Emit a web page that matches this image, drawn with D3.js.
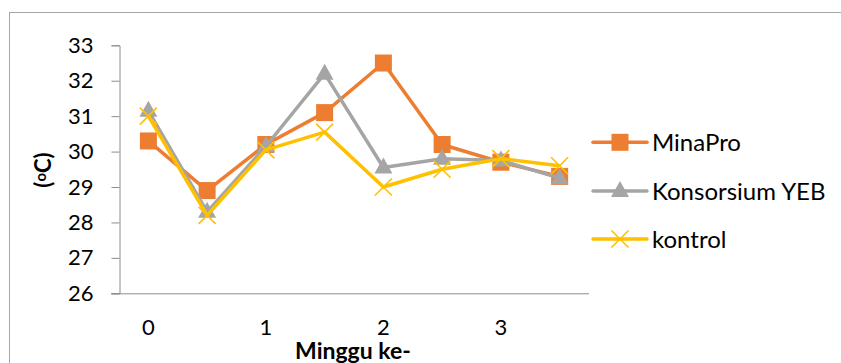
<!DOCTYPE html>
<html>
<head>
<meta charset="utf-8">
<script src="https://cdn.jsdelivr.net/npm/d3@7"></script>
<style>
  html, body { margin: 0; padding: 0; background: #fff; }
  svg { display: block; font-family: Lato, "Open Sans", sans-serif; }
</style>
</head>
<body>
<svg id="chart" width="841" height="363"></svg>
<script>
// Weekly temperature readings (°C)
const categories = ["0", "", "1", "", "2", "", "3", ""];
const minaPro    = [30.3, 28.9, 30.2, 31.1, 32.5, 30.2, 29.7, 29.3];
const konsorsium = [31.15, 28.3, 30.15, 32.2, 29.55, 29.8, 29.75, 29.25];
const kontrol    = [31.0, 28.2, 30.05, 30.55, 29.0, 29.5, 29.8, 29.6];
const seriesNames = ["MinaPro", "Konsorsium YEB", "kontrol"];
const yTicks = [26, 27, 28, 29, 30, 31, 32, 33];

const colors = ["#ED7D31", "#A5A5A5", "#FFC000"];
const seriesData = [minaPro, konsorsium, kontrol];
const markers = ["square", "triangle", "cross"];

const svg = d3.select("#chart");

// outer chart frame
svg.append("rect")
  .attr("x", 9.5).attr("y", 12.5)
  .attr("width", 900).attr("height", 400)
  .attr("fill", "none").attr("stroke", "#A6A6A6").attr("stroke-width", 1);

const plot = { left: 119, right: 589, top: 45.3, bottom: 293.3 };

const x = d3.scaleBand()
  .domain(d3.range(categories.length))
  .range([plot.left, plot.right]);

const y = d3.scaleLinear()
  .domain([26, 33])
  .range([plot.bottom, plot.top]);

const cx = i => x(i) + x.bandwidth() / 2;

// Y axis
const yAxis = d3.axisLeft(y).tickValues(yTicks).tickSize(8).tickPadding(18)
  .tickFormat(d3.format("d"));
const gy = svg.append("g").attr("transform", `translate(${plot.left + 0.5},0)`).call(yAxis);
gy.select(".domain").attr("stroke", "#8C8C8C");
gy.selectAll(".tick line").attr("stroke", "#8C8C8C");
gy.selectAll(".tick text").attr("font-size", 22).attr("fill", "#000")
  .attr("font-family", "Lato, sans-serif");

// X axis
const xAxis = d3.axisBottom(x).tickSize(0).tickPadding(26)
  .tickFormat(i => categories[i]);
const gx = svg.append("g").attr("transform", `translate(0,${plot.bottom + 0.5})`).call(xAxis);
gx.select(".domain").attr("stroke", "#8C8C8C")
  .attr("d", `M${plot.left - 8},0H${plot.right}`);
gx.selectAll(".tick text").attr("font-size", 22).attr("fill", "#000")
  .attr("font-family", "Lato, sans-serif");

// axis titles
svg.append("text")
  .attr("x", 353).attr("y", 359)
  .attr("text-anchor", "middle")
  .attr("font-size", 23).attr("font-weight", "bold")
  .text("Minggu ke-");

const yt = svg.append("text")
  .attr("transform", "translate(51,170) rotate(-90)")
  .attr("text-anchor", "middle")
  .attr("font-size", 22).attr("font-weight", "bold");
yt.append("tspan").text("(");
yt.append("tspan").attr("font-size", 15).attr("dy", -5).text("o");
yt.append("tspan").attr("dy", 5).text("C)");

// marker drawing
function drawMarker(g, type, color, px, py) {
  if (type === "square") {
    g.append("rect").attr("x", px - 8.5).attr("y", py - 8.5)
      .attr("width", 17).attr("height", 17).attr("fill", color);
  } else if (type === "triangle") {
    const s = 18;
    g.append("path")
      .attr("d", `M${px},${py - 10}L${px + s / 2},${py + 6}L${px - s / 2},${py + 6}Z`)
      .attr("fill", color);
  } else {
    const r = 8.5;
    g.append("path")
      .attr("d", `M${px - r},${py - r}L${px + r},${py + r}M${px - r},${py + r}L${px + r},${py - r}`)
      .attr("stroke", color).attr("stroke-width", 1.6).attr("fill", "none");
  }
}

const line = d3.line().x((d, i) => cx(i)).y(d => y(d));

seriesData.forEach((vals, s) => {
  const g = svg.append("g");
  g.append("path").datum(vals)
    .attr("d", line)
    .attr("fill", "none")
    .attr("stroke", colors[s])
    .attr("stroke-width", 3.5)
    .attr("stroke-linejoin", "round");
  vals.forEach((v, i) => drawMarker(g, markers[s], colors[s], cx(i), y(v)));
});

// legend
const legendY = [142.3, 191, 239];
seriesNames.forEach((name, s) => {
  const g = svg.append("g");
  g.append("line")
    .attr("x1", 593).attr("x2", 647)
    .attr("y1", legendY[s]).attr("y2", legendY[s])
    .attr("stroke", colors[s]).attr("stroke-width", 3.5).attr("stroke-linecap", "round");
  drawMarker(g, markers[s], colors[s], 620, legendY[s]);
  g.append("text")
    .attr("x", 652).attr("y", legendY[s] + 8.5)
    .attr("font-size", 24).attr("fill", "#000")
    .text(name);
});
</script>
</body>
</html>
